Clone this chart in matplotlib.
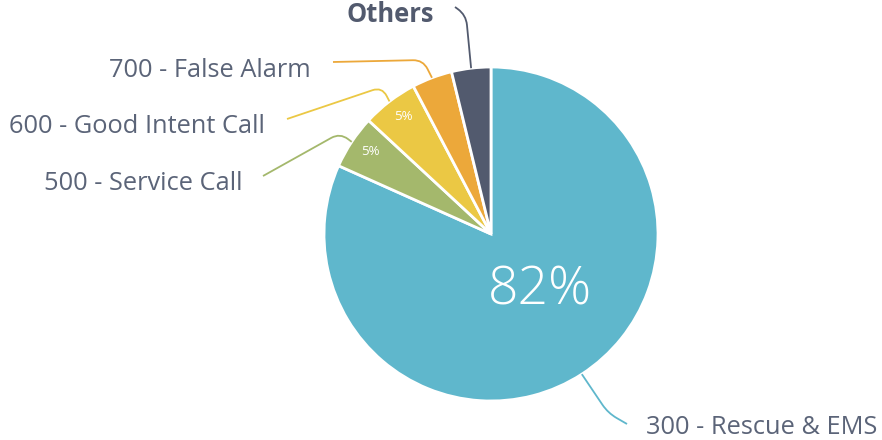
import numpy as np
import matplotlib.pyplot as plt
from matplotlib.path import Path
from matplotlib.patches import PathPatch

plt.rcParams['font.family'] = ['Open Sans', 'DejaVu Sans']

# 事故種別の割合(%)
labels = ["300 - Rescue & EMS", "500 - Service Call", "600 - Good Intent Call",
          "700 - False Alarm", "Others"]
shares = [81.7, 5.2, 5.4, 3.9, 3.8]
colors = ["#5fb7cc", "#a4b86c", "#ebc844", "#eca83a", "#525a6e"]
show_pct = [True, True, True, False, False]

W, H = 882, 440
cx, cy, R = 491, 440 - 234, 167
text_color = "#5b6478"

fig = plt.figure(figsize=(W / 100, H / 100), dpi=100)
ax = fig.add_axes([0, 0, 1, 1])

wedges, _ = ax.pie(shares, colors=colors, startangle=90, counterclock=False,
                   center=(cx, cy), radius=R,
                   wedgeprops=dict(edgecolor="white", linewidth=2))
ax.set_xlim(0, W)
ax.set_ylim(0, H)
ax.set_aspect("equal")
ax.axis("off")

def mid_point(w, r):
    a = np.deg2rad((w.theta1 + w.theta2) / 2)
    return cx + r * np.cos(a), cy + r * np.sin(a)

# パーセント表示
for w, v, show in zip(wedges, shares, show_pct):
    if not show:
        continue
    if v > 50:
        x, y = mid_point(w, 0.42 * R)
        ax.text(x + 11, y + 2, f"{v:.0f}%", color="white", fontsize=38.5,
                fontweight="light", ha="center", va="center")
    else:
        x, y = mid_point(w, 0.87 * R)
        ax.text(x + 1, y + 2, f"{v:.0f}%", color="white", fontsize=9.5,
                ha="center", va="center")

# ラベル位置(ピクセル, 上から)と引き出し線の折れ点
label_pos = [(646, 428, "left"), (242, 183, "right"), (265, 126, "right"),
             (311, 70, "right"), (390, 14, "center")]
line_start = [(627, 424), (263, 176), (287, 119), (333, 62), (455, 7)]
elbows = [(608, 413), (340, 133), (382, 87), (423, 60), (466, 15)]

def leader(p0, p1, p2, d=10):
    p0, p1, p2 = map(np.array, (p0, p1, p2))
    a = p1 + (p0 - p1) / np.linalg.norm(p0 - p1) * d
    b = p1 + (p2 - p1) / np.linalg.norm(p2 - p1) * d
    verts = [p0, a, p1, b, p2]
    codes = [Path.MOVETO, Path.LINETO, Path.CURVE3, Path.CURVE3, Path.LINETO]
    return Path(verts, codes)

for i, w in enumerate(wedges):
    anchor = mid_point(w, R)
    s = (line_start[i][0], H - line_start[i][1])
    e = (elbows[i][0], H - elbows[i][1])
    ax.add_patch(PathPatch(leader(s, e, anchor), fill=False,
                           edgecolor=colors[i], linewidth=1.3))
    lx, ly, ha = label_pos[i]
    if labels[i] == "Others":
        ax.text(lx, H - ly, labels[i], color="#525a6e", fontsize=18.4,
                fontweight="bold", ha=ha, va="center")
    else:
        ax.text(lx, H - ly, labels[i], color=text_color, fontsize=18.3,
                ha=ha, va="center")

fig.savefig("out.png", dpi=100)
